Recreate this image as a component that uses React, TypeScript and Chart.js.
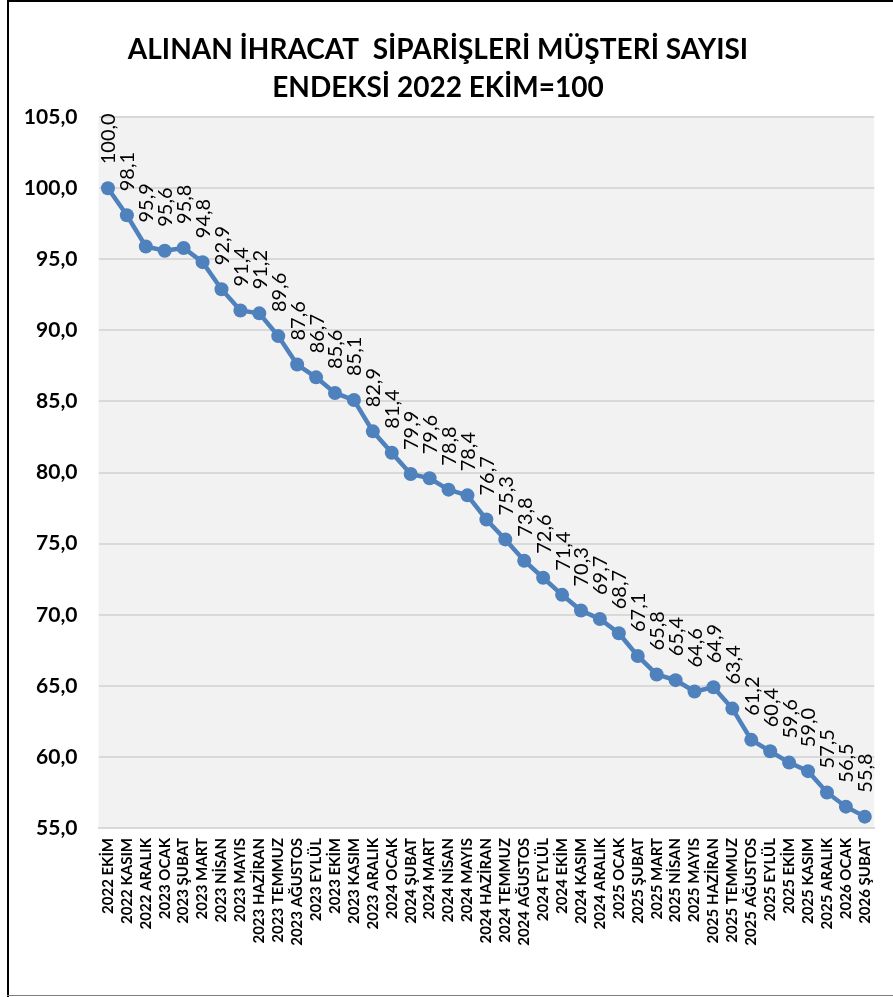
import React, { useEffect, useRef } from "react";
import { Chart, registerables } from "chart.js";

Chart.register(...registerables);

const categories: string[] = [
  "2022 EKİM", "2022 KASIM", "2022 ARALIK",
  "2023 OCAK", "2023 ŞUBAT", "2023 MART", "2023 NİSAN", "2023 MAYIS", "2023 HAZİRAN",
  "2023 TEMMUZ", "2023 AĞUSTOS", "2023 EYLÜL", "2023 EKİM", "2023 KASIM", "2023 ARALIK",
  "2024 OCAK", "2024 ŞUBAT", "2024 MART", "2024 NİSAN", "2024 MAYIS", "2024 HAZİRAN",
  "2024 TEMMUZ", "2024 AĞUSTOS", "2024 EYLÜL", "2024 EKİM", "2024 KASIM", "2024 ARALIK",
  "2025 OCAK", "2025 ŞUBAT", "2025 MART", "2025 NİSAN", "2025 MAYIS", "2025 HAZİRAN",
  "2025 TEMMUZ", "2025 AĞUSTOS", "2025 EYLÜL", "2025 EKİM", "2025 KASIM", "2025 ARALIK",
  "2026 OCAK", "2026 ŞUBAT",
];

const indexValues: number[] = [
  100.0, 98.1, 95.9,
  95.6, 95.8, 94.8, 92.9, 91.4, 91.2, 89.6, 87.6, 86.7, 85.6, 85.1, 82.9,
  81.4, 79.9, 79.6, 78.8, 78.4, 76.7, 75.3, 73.8, 72.6, 71.4, 70.3, 69.7,
  68.7, 67.1, 65.8, 65.4, 64.6, 64.9, 63.4, 61.2, 60.4, 59.6, 59.0, 57.5,
  56.5, 55.8,
];

const titleLines: string[] = [
  "ALINAN İHRACAT  SİPARİŞLERİ MÜŞTERİ SAYISI",
  "ENDEKSİ 2022 EKİM=100",
];

const yMin = 55;
const yMax = 105;
const yStep = 5;

const fmt = (v: number) => v.toFixed(1).replace(".", ",");

const FONT = "Lato, 'Open Sans', sans-serif";

const bgPlugin = {
  id: "plotBg",
  beforeDraw(chart: any) {
    const { ctx, chartArea } = chart;
    ctx.save();
    ctx.fillStyle = "#f2f2f2";
    ctx.fillRect(chartArea.left, chartArea.top, chartArea.right - chartArea.left, chartArea.bottom - chartArea.top);
    ctx.restore();
  },
};

const labelPlugin = {
  id: "vLabels",
  afterDatasetsDraw(chart: any) {
    const { ctx } = chart;
    const meta = chart.getDatasetMeta(0);
    const data = chart.data.datasets[0].data as number[];
    ctx.save();
    ctx.fillStyle = "#000000";
    ctx.font = `20px ${FONT}`;
    ctx.textAlign = "left";
    ctx.textBaseline = "middle";
    meta.data.forEach((pt: any, i: number) => {
      ctx.save();
      ctx.translate(pt.x + 1, pt.y - 24);
      ctx.rotate(-Math.PI / 2);
      ctx.fillText(fmt(data[i]), 0, 0);
      ctx.restore();
    });
    ctx.restore();
  },
};

export default function App() {
  const ref = useRef<HTMLCanvasElement | null>(null);

  useEffect(() => {
    if (!ref.current) return;
    const chart = new Chart(ref.current, {
      type: "line",
      data: {
        labels: categories,
        datasets: [
          {
            data: indexValues,
            borderColor: "#4f81bd",
            backgroundColor: "#4f81bd",
            borderWidth: 4.5,
            pointRadius: 7,
            pointBorderWidth: 0,
            pointBackgroundColor: "#4f81bd",
            tension: 0,
          },
        ],
      },
      options: {
        animation: false,
        responsive: false,
        maintainAspectRatio: false,
        layout: { padding: { left: 0, right: 17, top: 0, bottom: 0 } },
        plugins: {
          legend: { display: false },
          tooltip: { enabled: false },
          title: {
            display: true,
            text: titleLines,
            color: "#000000",
            font: { family: FONT, size: 28, weight: "bold", lineHeight: 1.36 },
            padding: { top: 31, bottom: 10 },
          },
        },
        scales: {
          x: {
            offset: true,
            grid: { display: false, drawTicks: false },
            border: { display: true, color: "#d9d9d9", width: 2 },
            ticks: {
              autoSkip: false,
              maxRotation: 90,
              minRotation: 90,
              padding: 10,
              color: "#000000",
              font: { family: FONT, size: 15, weight: "bold" },
            },
            afterFit(scale: any) {
              scale.height = 169;
            },
          },
          y: {
            min: yMin,
            max: yMax,
            grid: { color: "#d9d9d9", lineWidth: 2, drawTicks: false },
            border: { display: false },
            ticks: {
              stepSize: yStep,
              padding: 21,
              color: "#000000",
              font: { family: FONT, size: 21, weight: "bold" },
              callback: (v: any) => fmt(Number(v)),
            },
            afterFit(scale: any) {
              scale.width = 98.5;
            },
          },
        },
      },
      plugins: [bgPlugin, labelPlugin],
    });
    return () => chart.destroy();
  }, []);

  return (
    <div style={{ position: "fixed", left: 0, top: 0, width: 893, height: 997, background: "#ffffff", overflow: "hidden" }}>
      <canvas ref={ref} width={893} height={997} style={{ position: "absolute", left: 0, top: 0, width: 893, height: 997 }} />
      <div style={{ position: "absolute", left: 7, top: 0, width: 2, height: 997, background: "#000000" }} />
      <div style={{ position: "absolute", left: 7, top: 0, width: 886, height: 2, background: "#000000" }} />
      <div style={{ position: "absolute", left: 7, top: 995, width: 886, height: 1, background: "#7f7f7f" }} />
    </div>
  );
}
